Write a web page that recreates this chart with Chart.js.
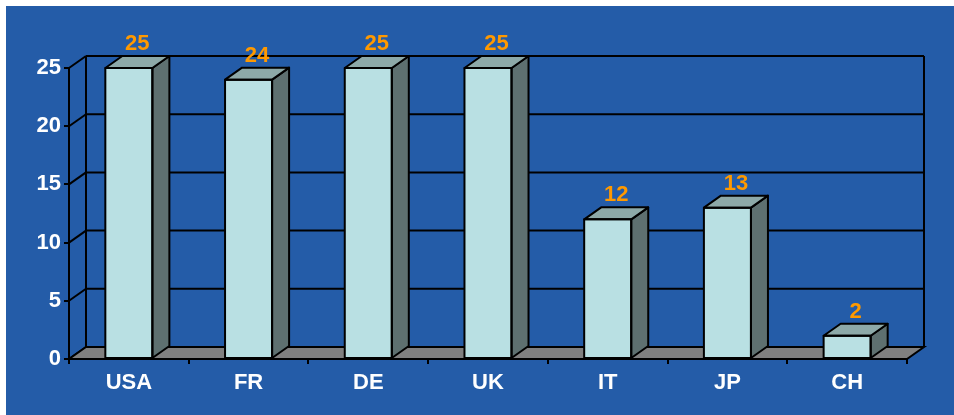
<!DOCTYPE html>
<html>
<head>
<meta charset="utf-8">
<script src="https://cdn.jsdelivr.net/npm/chart.js@4.4.0/dist/chart.umd.min.js"></script>
<style>
  html, body { margin: 0; padding: 0; background: #ffffff; }
  #wrap { position: absolute; left: 0; top: 0; width: 954px; height: 415px; }
  #bg { position: absolute; left: 6px; top: 6px; width: 948px; height: 409px; background: #245CA8; }
  #c { position: absolute; left: 0; top: 0; }
</style>
</head>
<body>
<div id="wrap">
  <div id="bg"></div>
  <canvas id="c" width="954" height="415"></canvas>
</div>
<script>
const categories = ['USA', 'FR', 'DE', 'UK', 'IT', 'JP', 'CH'];
const values = [25, 24, 25, 25, 12, 13, 2];
const yTicks = [0, 5, 10, 15, 20, 25];

const DX = 17, DY = -12;
const FONT = "'Liberation Sans', Arial, sans-serif";

const threeD = {
  id: 'threeD',
  beforeDatasetsDraw(chart) {
    const ctx = chart.ctx;
    const a = chart.chartArea;
    const y = chart.scales.y;
    ctx.save();
    ctx.strokeStyle = '#000';
    ctx.lineWidth = 2;
    yTicks.forEach(v => {
      const yf = y.getPixelForValue(v);
      ctx.beginPath();
      ctx.moveTo(a.left + DX, yf + DY);
      ctx.lineTo(a.right + DX, yf + DY);
      ctx.stroke();
      ctx.beginPath();
      ctx.moveTo(a.left, yf);
      ctx.lineTo(a.left + DX, yf + DY);
      ctx.stroke();
    });
    const yTop = y.getPixelForValue(25) + DY;
    const yBot = y.getPixelForValue(0) + DY;
    ctx.beginPath();
    ctx.moveTo(a.left + DX, yTop); ctx.lineTo(a.left + DX, yBot);
    ctx.moveTo(a.right + DX, yTop); ctx.lineTo(a.right + DX, yBot);
    ctx.stroke();
    const y0 = y.getPixelForValue(0);
    ctx.beginPath();
    ctx.moveTo(a.left, y0);
    ctx.lineTo(a.right, y0);
    ctx.lineTo(a.right + DX, y0 + DY);
    ctx.lineTo(a.left + DX, y0 + DY);
    ctx.closePath();
    ctx.fillStyle = '#808080';
    ctx.fill();
    ctx.stroke();
    ctx.restore();
  },
  afterDatasetsDraw(chart) {
    const ctx = chart.ctx;
    const meta = chart.getDatasetMeta(0);
    ctx.save();
    ctx.strokeStyle = '#000';
    ctx.lineWidth = 2;
    ctx.lineJoin = 'round';
    meta.data.forEach((bar, i) => {
      const p = bar.getProps(['x', 'y', 'base', 'width'], true);
      const x1 = p.x - p.width / 2, x2 = p.x + p.width / 2;
      const top = p.y, bot = p.base;
      ctx.beginPath();
      ctx.moveTo(x2, top);
      ctx.lineTo(x2 + DX, top + DY);
      ctx.lineTo(x2 + DX, bot + DY);
      ctx.lineTo(x2, bot);
      ctx.closePath();
      ctx.fillStyle = '#5E7070';
      ctx.fill();
      ctx.stroke();
      ctx.beginPath();
      ctx.moveTo(x1, top);
      ctx.lineTo(x2, top);
      ctx.lineTo(x2 + DX, top + DY);
      ctx.lineTo(x1 + DX, top + DY);
      ctx.closePath();
      ctx.fillStyle = '#8DA9A8';
      ctx.fill();
      ctx.stroke();
      ctx.strokeRect(x1, top, x2 - x1, bot - top);
      ctx.fillStyle = '#FF9900';
      ctx.font = 'bold 22px ' + FONT;
      ctx.textAlign = 'center';
      ctx.textBaseline = 'middle';
      ctx.fillText(String(values[i]), p.x + DX / 2, top + DY - 12);
    });
    ctx.restore();
  }
};

new Chart(document.getElementById('c'), {
  type: 'bar',
  data: {
    labels: categories,
    datasets: [{
      data: values,
      backgroundColor: '#B9E0E3',
      borderWidth: 0,
      categoryPercentage: 1,
      barPercentage: 0.393
    }]
  },
  options: {
    responsive: false,
    animation: false,
    events: [],
    layout: { padding: { left: 0, right: 47, top: 68, bottom: 0 } },
    plugins: { legend: { display: false }, tooltip: { enabled: false } },
    scales: {
      x: {
        grid: { display: true, drawOnChartArea: false, offset: true, tickLength: 5, color: '#000', lineWidth: 2 },
        border: { display: true, color: '#000', width: 2 },
        ticks: { color: '#fff', font: { family: FONT, size: 22, weight: 'bold' }, padding: 6, maxRotation: 0 },
        afterFit(s) { s.height = 56; }
      },
      y: {
        min: 0, max: 25,
        afterBuildTicks(s) { s.ticks = yTicks.map(v => ({ value: v })); },
        grid: { display: true, drawOnChartArea: false, tickLength: 5, color: '#000', lineWidth: 2 },
        border: { display: true, color: '#000', width: 2 },
        ticks: { color: '#fff', font: { family: FONT, size: 22, weight: 'bold' }, padding: 3 },
        afterFit(s) { s.width = 69; }
      }
    }
  },
  plugins: [threeD]
});
</script>
</body>
</html>
